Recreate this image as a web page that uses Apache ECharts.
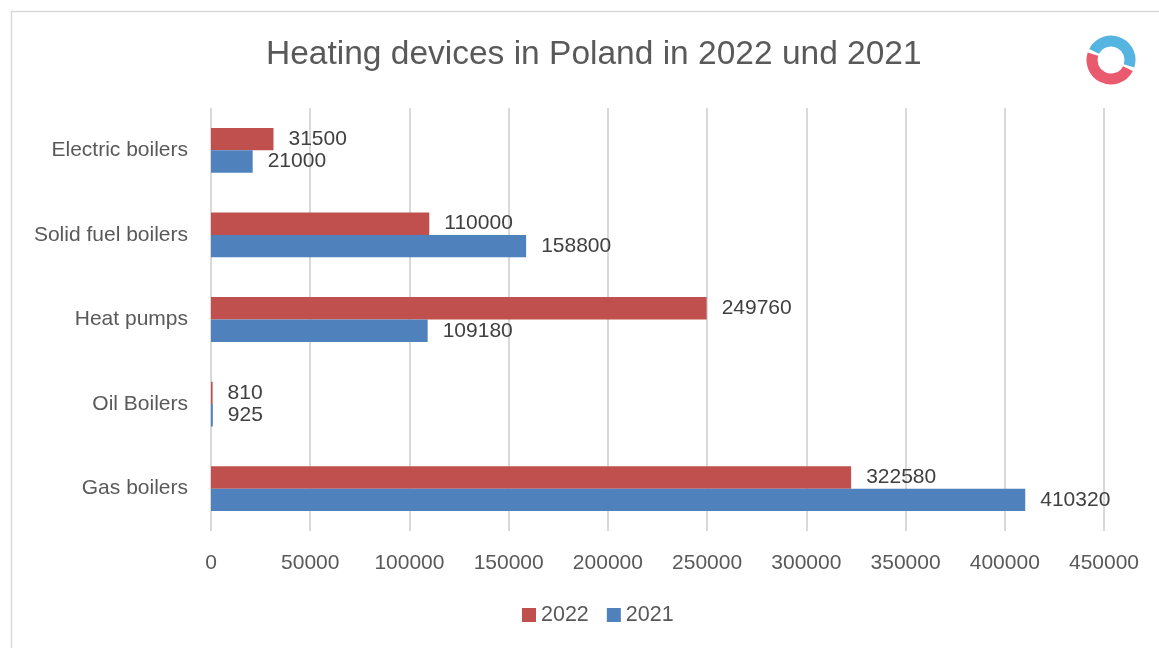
<!DOCTYPE html>
<html>
<head>
<meta charset="utf-8">
<script src="https://cdn.jsdelivr.net/npm/echarts@6/dist/echarts.min.js"></script>
<style>
  html, body { margin: 0; padding: 0; background: #fff; }
  #chart { width: 1159px; height: 648px; }
</style>
</head>
<body>
<div id="chart"></div>
<script>
// categories listed bottom to top
var categories = ['Gas boilers', 'Oil Boilers', 'Heat pumps', 'Solid fuel boilers', 'Electric boilers'];
var values2022 = [322580, 810, 249760, 110000, 31500];
var values2021 = [410320, 925, 109180, 158800, 21000];
var tickLabels = ['0', '50000', '100000', '150000', '200000', '250000', '300000', '350000', '400000', '450000'];

var chartDom = document.getElementById('chart');
var myChart = echarts.init(chartDom, null, { renderer: 'canvas' });
var font = 'Liberation Sans, Arial, sans-serif';

var labelStyle = {
    show: true,
    position: 'right',
    distance: 15,
    color: '#404040',
    fontSize: 21,
    fontFamily: font
};

var option = {
    backgroundColor: '#fff',
    title: {
        text: 'Heating devices in Poland in 2022 und 2021',
        left: 261,
        top: 33,
        textStyle: {
            color: '#595959',
            fontSize: 33.5,
            fontWeight: 'normal',
            fontFamily: font
        }
    },
    graphic: [
        {
            type: 'rect',
            left: 9, top: 9,
            shape: { width: 1200, height: 700 },
            style: { fill: 'none', stroke: '#d9d9d9', lineWidth: 1.5 },
            silent: true
        },
        {
            type: 'arc',
            shape: { cx: 1111, cy: 60, r: 19, startAngle: -Math.PI * 0.85, endAngle: Math.PI * 0.1 },
            style: { fill: 'none', stroke: '#55b4e0', lineWidth: 11 },
            silent: true
        },
        {
            type: 'arc',
            shape: { cx: 1111, cy: 60, r: 19, startAngle: Math.PI * 0.15, endAngle: Math.PI * 1.1 },
            style: { fill: 'none', stroke: '#ea5a6e', lineWidth: 11 },
            silent: true
        }
    ],
    legend: {
        data: ['2022', '2021'],
        bottom: 17,
        left: 517,
        itemWidth: 14,
        itemHeight: 14,
        itemGap: 18,
        icon: 'rect',
        textStyle: { color: '#595959', fontSize: 21.5, fontFamily: font }
    },
    grid: {
        left: 211,
        right: 55,
        top: 108,
        bottom: 117
    },
    xAxis: {
        type: 'value',
        min: 0,
        max: 450000,
        interval: 50000,
        axisLine: { show: false },
        axisTick: { show: false },
        axisLabel: {
            margin: 22,
            color: '#595959',
            fontSize: 21,
            fontFamily: font,
            formatter: function (v) {
                return tickLabels[Math.round(v / 50000)];
            }
        },
        splitLine: { lineStyle: { color: '#d9d9d9', width: 2 } }
    },
    yAxis: {
        type: 'category',
        data: categories,
        axisLine: { show: false },
        axisTick: { show: false },
        axisLabel: {
            margin: 23,
            color: '#595959',
            fontSize: 21,
            fontFamily: font
        }
    },
    series: [
        {
            name: '2022',
            type: 'bar',
            data: values2022,
            barGap: '0%',
            barCategoryGap: '47%',
            itemStyle: { color: '#C0504D' },
            label: labelStyle
        },
        {
            name: '2021',
            type: 'bar',
            data: values2021,
            barGap: '0%',
            barCategoryGap: '47%',
            itemStyle: { color: '#4F81BD' },
            label: labelStyle
        }
    ]
};

option && myChart.setOption(option);
window.addEventListener('resize', function () {
    myChart.resize();
});
</script>
</body>
</html>
